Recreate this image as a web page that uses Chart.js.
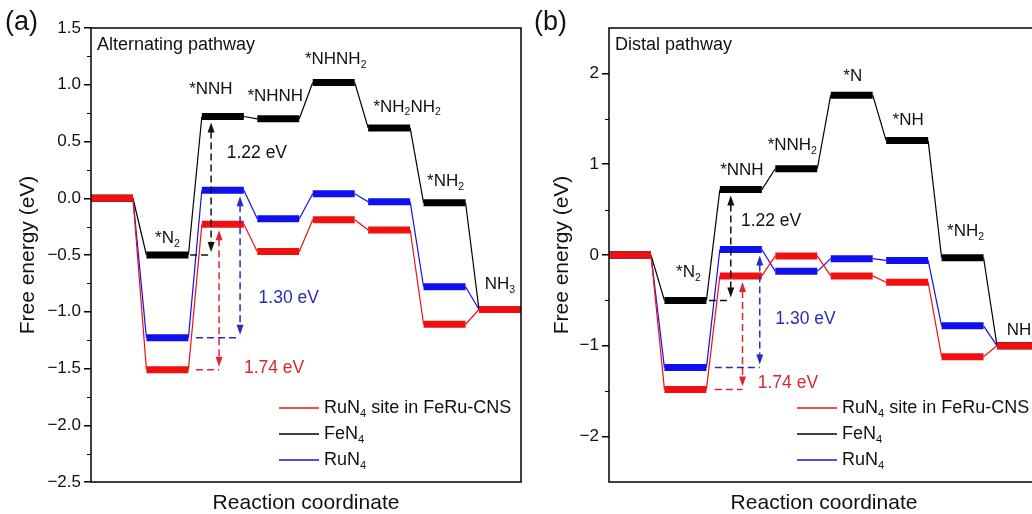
<!DOCTYPE html>
<html>
<head>
<meta charset="utf-8">
<script src="https://cdn.jsdelivr.net/npm/chart.js@4.4.0/dist/chart.umd.min.js"></script>
<style>
html, body { margin: 0; padding: 0; background: #fff; overflow: hidden; }
#wrap { position: relative; width: 1032px; height: 514px; overflow: hidden; }
canvas { position: absolute; top: 0; }
#panelA { left: 0; }
#panelB { left: 520px; }
</style>
</head>
<body>
<div id="wrap">
  <canvas id="panelA" width="524" height="514"></canvas>
  <canvas id="panelB" width="524" height="514"></canvas>
</div>
<script>
// (a) alternating pathway, free energy of each intermediate (eV)
var statesA = ['', '*N_2', '*NNH', '*NHNH', '*NHNH_2', '*NH_2NH_2', '*NH_2', 'NH_3'];
var feruA = [0, -1.51, -0.23, -0.47, -0.19, -0.28, -1.11, -0.98];
var fen4A = [0, -0.50, 0.72, 0.70, 1.02, 0.62, -0.04, -0.98];
var run4A = [0, -1.23, 0.07, -0.18, 0.04, -0.03, -0.78, -0.98];
var yRangeA = [-2.5, 1.5];
var yTicksA = [-2.5, -2.0, -1.5, -1.0, -0.5, 0.0, 0.5, 1.0, 1.5];

// (b) distal pathway
var statesB = ['', '*N_2', '*NNH', '*NNH_2', '*N', '*NH', '*NH_2', 'NH_3'];
var feruB = [0, -1.48, -0.23, -0.01, -0.23, -0.30, -1.12, -1.00];
var fen4B = [0, -0.50, 0.72, 0.95, 1.76, 1.26, -0.03, -1.00];
var run4B = [0, -1.24, 0.06, -0.18, -0.04, -0.06, -0.78, -1.00];
var yRangeB = [-2.5, 2.5];
var yTicksB = [-2, -1, 0, 1, 2];

var seriesNames = ['RuN_4 site in FeRu-CNS', 'FeN_4', 'RuN_4'];
var gapLabels = ['1.22 eV', '1.30 eV', '1.74 eV'];

var FONT = "'Liberation Sans', Arial, Helvetica, sans-serif";
var RED = '#f01010', BLACK = '#000000', BLUE = '#1010ee';
var BAR = 1, STEP = 1.32;

// each level becomes a flat bar: two points, joined to the next level by a thin line
function levelPoints(values) {
  var pts = [];
  values.forEach(function (v, i) {
    pts.push({ x: i * STEP, y: v });
    pts.push({ x: i * STEP + BAR, y: v });
  });
  return pts;
}

function series(name, values, color) {
  return {
    label: name,
    data: levelPoints(values),
    borderColor: color,
    borderWidth: 1.2,
    pointRadius: 0,
    tension: 0,
    segment: {
      borderWidth: function (c) { return c.p0DataIndex % 2 === 0 ? 7 : 1.2; }
    }
  };
}

function richText(ctx, str, x, y, size, align, color) {
  var parts = str.split(/(_\d)/).filter(Boolean);
  var subSize = size * 0.62;
  var w = 0;
  parts.forEach(function (p) {
    var sub = p[0] === '_';
    ctx.font = (sub ? subSize : size) + 'px ' + FONT;
    w += ctx.measureText(sub ? p.slice(1) : p).width;
  });
  var cx = align === 'center' ? x - w / 2 : (align === 'right' ? x - w : x);
  ctx.fillStyle = color;
  ctx.textAlign = 'left';
  ctx.textBaseline = 'middle';
  parts.forEach(function (p) {
    var sub = p[0] === '_';
    var t = sub ? p.slice(1) : p;
    ctx.font = (sub ? subSize : size) + 'px ' + FONT;
    ctx.fillText(t, cx, sub ? y + size * 0.33 : y);
    cx += ctx.measureText(t).width;
  });
}

function arrowHead(ctx, x, tipY, dir) {
  ctx.beginPath();
  ctx.moveTo(x, tipY);
  ctx.lineTo(x - 3.5, tipY - dir * 10);
  ctx.lineTo(x + 3.5, tipY - dir * 10);
  ctx.closePath();
  ctx.fill();
}

function fmtTick(v, dec) {
  var s = Math.abs(v).toFixed(dec);
  return v < -1e-9 ? '\u2212' + s : s;
}

function makePanel(id, p) {
  var step = p.yTicks[1] - p.yTicks[0];
  var decor = {
    id: 'decor',
    afterDatasetsDraw: function (chart) {
      var ctx = chart.ctx, a = chart.chartArea;
      var xs = chart.scales.x, ys = chart.scales.y;
      ctx.save();

      // frame
      ctx.strokeStyle = '#000';
      ctx.lineWidth = 1.5;
      ctx.strokeRect(a.left, a.top, a.right - a.left, a.bottom - a.top);

      // minor ticks halfway between the labelled ones
      ctx.lineWidth = 1.2;
      ctx.beginPath();
      for (var v = p.yTicks[0] - step / 2; v < p.yRange[1]; v += step) {
        if (v <= p.yRange[0] + 1e-6 || v >= p.yRange[1] - 1e-6) continue;
        var py = Math.round(ys.getPixelForValue(v)) + 0.5;
        ctx.moveTo(a.left - 4, py);
        ctx.lineTo(a.left, py);
      }
      ctx.stroke();

      // dashed gap arrows between *N2 and *NNH
      p.arrows.forEach(function (ar) {
        var x = xs.getPixelForValue(ar.x);
        var yUp = ys.getPixelForValue(ar.values[2]) + 6;
        var yLo = ys.getPixelForValue(ar.values[1]);
        ctx.strokeStyle = ar.color;
        ctx.fillStyle = ar.color;
        ctx.lineWidth = 1.5;
        ctx.setLineDash([7, 4]);
        ctx.beginPath();
        ctx.moveTo(xs.getPixelForValue(ar.guide), yLo);
        ctx.lineTo(x, yLo);
        ctx.moveTo(x, yUp + 9);
        ctx.lineTo(x, yLo - 12);
        ctx.stroke();
        ctx.setLineDash([]);
        arrowHead(ctx, x, yUp, -1);
        arrowHead(ctx, x, yLo - 3, 1);
      });

      // intermediate labels above the FeN4 levels
      p.states.forEach(function (s, i) {
        if (!s) return;
        var off = p.labelOffsets[i];
        var x = xs.getPixelForValue(i * STEP + BAR / 2) + off[0];
        var y = ys.getPixelForValue(p.black[i]) + off[1];
        richText(ctx, s, x, y, 17, 'center', '#111');
      });

      // gap values
      p.gapText.forEach(function (g, i) {
        richText(ctx, gapLabels[i], xs.getPixelForValue(g.x), ys.getPixelForValue(g.y), 17.5, 'center', g.color);
      });

      richText(ctx, p.title, a.left + 6, a.top + 17, 18, 'left', '#111');

      // legend
      var colors = [RED, BLACK, BLUE];
      seriesNames.forEach(function (n, i) {
        var ly = a.top + 380 + i * 26;
        var lx = a.left + 188;
        ctx.strokeStyle = colors[i];
        ctx.lineWidth = 1.5;
        ctx.beginPath();
        ctx.moveTo(lx, ly);
        ctx.lineTo(lx + 40, ly);
        ctx.stroke();
        richText(ctx, n, lx + 45, ly, 18, 'left', '#111');
      });

      // panel letter
      ctx.font = '27px ' + FONT;
      ctx.fillStyle = '#111';
      ctx.textAlign = 'left';
      ctx.textBaseline = 'middle';
      ctx.fillText(p.letter, p.letterX, 23);
      ctx.restore();
    }
  };

  return new Chart(document.getElementById(id), {
    type: 'line',
    data: {
      datasets: [
        series(seriesNames[0], p.red, RED),
        series(seriesNames[1], p.black, BLACK),
        series(seriesNames[2], p.blue, BLUE)
      ]
    },
    options: {
      responsive: false,
      animation: false,
      devicePixelRatio: 1,
      events: [],
      layout: { padding: { top: 28, right: p.padRight, bottom: 0, left: 0 } },
      plugins: { legend: { display: false }, tooltip: { enabled: false } },
      scales: {
        x: {
          type: 'linear',
          min: 0,
          max: 7 * STEP + BAR,
          grid: { display: false },
          border: { display: false },
          ticks: { display: false },
          title: {
            display: true,
            text: 'Reaction coordinate',
            color: '#111',
            padding: 0,
            font: { family: FONT, size: 21, lineHeight: 1 }
          },
          afterFit: function (s) { s.height = 32; }
        },
        y: {
          min: p.yRange[0],
          max: p.yRange[1],
          grid: {
            display: true,
            drawOnChartArea: false,
            drawTicks: true,
            tickLength: 7,
            color: '#000',
            lineWidth: 1.5
          },
          border: { display: false },
          ticks: {
            padding: 3,
            color: '#111',
            font: { family: FONT, size: 17 },
            callback: function (v) { return fmtTick(v, p.dec); }
          },
          afterBuildTicks: function (s) {
            s.ticks = p.yTicks.map(function (v) { return { value: v }; });
          },
          title: {
            display: true,
            text: 'Free energy (eV)',
            color: '#111',
            padding: { top: p.titlePad, bottom: 0 },
            font: { family: FONT, size: 21, lineHeight: 1.2 }
          },
          afterFit: function (s) { s.width = p.axisWidth; }
        }
      }
    },
    plugins: [decor]
  });
}

makePanel('panelA', {
  red: feruA, black: fen4A, blue: run4A, states: statesA,
  yRange: yRangeA, yTicks: yTicksA, dec: 1,
  title: 'Alternating pathway', letter: '(a)', letterX: 5,
  axisWidth: 91, padRight: 3, titlePad: 16,
  labelOffsets: [null, [0, -17], [-12, -27], [-3, -22], [2, -23], [18, -21], [1, -21], [0, -25]],
  arrows: [
    { x: 2.86, guide: 2.36, values: fen4A, color: '#111' },
    { x: 3.05, guide: 2.50, values: feruA, color: '#d8282c' },
    { x: 3.55, guide: 2.50, values: run4A, color: '#2a2ac4' }
  ],
  gapText: [
    { x: 3.95, y: 0.40, color: '#111' },
    { x: 4.71, y: -0.88, color: '#2a2ab8' },
    { x: 4.36, y: -1.50, color: '#d8282c' }
  ]
});

makePanel('panelB', {
  red: feruB, black: fen4B, blue: run4B, states: statesB,
  yRange: yRangeB, yTicks: yTicksB, dec: 0,
  title: 'Distal pathway', letter: '(b)', letterX: 14,
  axisWidth: 89, padRight: 5, titlePad: 30,
  labelOffsets: [null, [3, -28], [1, -19], [-4, -23], [1, -19], [1, -20], [3, -26], [4, -15]],
  arrows: [
    { x: 2.90, guide: 2.38, values: fen4B, color: '#111' },
    { x: 3.18, guide: 2.52, values: feruB, color: '#d8282c' },
    { x: 3.59, guide: 2.52, values: run4B, color: '#2a2ac4' }
  ],
  gapText: [
    { x: 3.86, y: 0.37, color: '#111' },
    { x: 4.68, y: -0.71, color: '#2a2ab8' },
    { x: 4.26, y: -1.41, color: '#d8282c' }
  ]
});
</script>
</body>
</html>
